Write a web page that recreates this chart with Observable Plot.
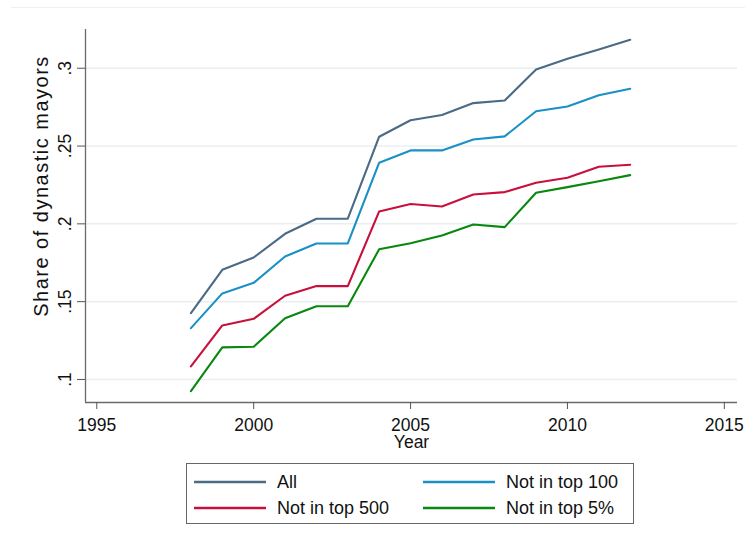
<!DOCTYPE html>
<html>
<head>
<meta charset="utf-8">
<script src="https://cdn.jsdelivr.net/npm/d3@7"></script>
<script src="https://cdn.jsdelivr.net/npm/@observablehq/plot@0.6"></script>
<style>
  html, body { margin: 0; padding: 0; background: #fff; }
  #wrap { position: relative; width: 745px; height: 547px; overflow: hidden; font-family: "Liberation Sans", Arial, sans-serif; }
  #topline { position: absolute; top: 7px; left: 11px; right: 0; border-top: 1.5px solid #edf1f2; }
  #legend { position: absolute; left: 186px; top: 463px; width: 446px; height: 59px; border: 1px solid #666; box-sizing: content-box; }
  .item { position: absolute; display: flex; align-items: center; font-size: 18px; color: #111; }
  .item svg { margin-right: 11px; }
</style>
</head>
<body>
<div id="wrap">
  <div id="topline"></div>
  <div id="chart"></div>
  <div id="legend"></div>
</div>
<script>
const years = [1998, 1999, 2000, 2001, 2002, 2003, 2004, 2005, 2006, 2007, 2008, 2009, 2010, 2011, 2012];
const seriesNames = ["All", "Not in top 100", "Not in top 500", "Not in top 5%"];
const seriesColors = ["#4a6a86", "#1a90c6", "#c8103c", "#08880e"];
const allMayors = [0.1426, 0.1705, 0.1784, 0.1936, 0.2033, 0.2033, 0.2560, 0.2666, 0.2699, 0.2776, 0.2793, 0.2992, 0.3061, 0.3121, 0.3183];
const notTop100 = [0.1330, 0.1553, 0.1621, 0.1790, 0.1874, 0.1874, 0.2393, 0.2472, 0.2472, 0.2542, 0.2562, 0.2724, 0.2754, 0.2827, 0.2868];
const notTop500 = [0.1084, 0.1347, 0.1390, 0.1538, 0.1600, 0.1600, 0.2080, 0.2128, 0.2112, 0.2189, 0.2204, 0.2264, 0.2296, 0.2367, 0.2380];
const notTop5pct = [0.0925, 0.1206, 0.1210, 0.1394, 0.1471, 0.1471, 0.1837, 0.1875, 0.1925, 0.1996, 0.1979, 0.2200, 0.2236, 0.2274, 0.2313];
const xTicks = [1995, 2000, 2005, 2010, 2015];
const yTicks = [0.1, 0.15, 0.2, 0.25, 0.3];
const yTickLabels = [".1", ".15", ".2", ".25", ".3"];
const xDomain = [1994.64, 2015.42];
const yDomain = [0.0852, 0.3249];

const seriesValues = [allMayors, notTop100, notTop500, notTop5pct];
const data = [];
seriesNames.forEach((name, i) => {
  years.forEach((yr, j) => data.push({series: name, year: yr, value: seriesValues[i][j]}));
});
const yLabelData = yTicks.map((v, i) => ({v, label: yTickLabels[i]}));

const fontSize = 17.5;
const chart = Plot.plot({
  width: 745,
  height: 455,
  marginLeft: 85,
  marginRight: 8,
  marginTop: 29,
  marginBottom: 53,
  style: {fontFamily: '"Liberation Sans", Arial, sans-serif', fontSize: fontSize + "px", color: "#111", background: "transparent"},
  x: {domain: xDomain},
  y: {domain: yDomain},
  color: {domain: seriesNames, range: seriesColors},
  marks: [
    Plot.gridY(yTicks, {stroke: "#e9eff1", strokeOpacity: 1, strokeWidth: 1.5}),
    Plot.ruleX([xDomain[0]], {stroke: "#6a6a6a", strokeWidth: 1.3}),
    Plot.ruleY([yDomain[0]], {stroke: "#6a6a6a", strokeWidth: 1.3}),
    Plot.axisX(xTicks, {tickSize: 7, tickPadding: 9, tickFormat: d => String(d), label: null, stroke: "#555", fontSize: fontSize}),
    Plot.axisY(yTicks, {tickSize: 8, tickFormat: () => "", label: null, stroke: "#555"}),
    Plot.text(yLabelData, {y: "v", text: "label", frameAnchor: "left", textAnchor: "middle", rotate: -90, dx: -20.5, fontSize: fontSize, fill: "#111"}),
    Plot.text(["Share of dynastic mayors"], {frameAnchor: "left", textAnchor: "middle", rotate: -90, dx: -44, dy: -30, fontSize: 20, fill: "#111", className: "ytitle"}),
    Plot.text(["Year"], {frameAnchor: "bottom", dy: 45.5, fontSize: fontSize, fill: "#111"}),
    Plot.line(data, {x: "year", y: "value", stroke: "series", z: "series", strokeWidth: 2.1})
  ]
});
d3.select(chart).selectAll(".ytitle text").style("letter-spacing", "1.5px");
document.getElementById("chart").appendChild(chart);

const legend = document.getElementById("legend");
const positions = [[7, 18], [236, 18], [7, 44], [236, 44]];
seriesNames.forEach((name, i) => {
  const it = document.createElement("div");
  it.className = "item";
  it.style.left = positions[i][0] + "px";
  it.style.top = (positions[i][1] - 12) + "px";
  it.style.height = "24px";
  it.innerHTML = `<svg width="72" height="6"><line x1="0" x2="72" y1="3" y2="3" stroke="${seriesColors[i]}" stroke-width="2.6"/></svg><span>${name}</span>`;
  legend.appendChild(it);
});
</script>
</body>
</html>
